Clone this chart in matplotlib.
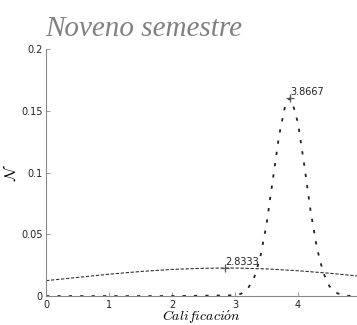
import numpy as np
import matplotlib.pyplot as plt

plt.rcParams['mathtext.fontset'] = 'cm'

# Curva ancha (media 2.8333)
x_ancha = [0.0, 0.5, 1.0, 1.5, 2.0, 2.5, 2.8333, 3.0, 3.5, 4.0, 4.5, 4.94]
y_ancha = [0.0125, 0.0151, 0.0177, 0.0199, 0.0216, 0.0225, 0.0227, 0.0227,
           0.0220, 0.0205, 0.0185, 0.0163]

# Curva estrecha (media 3.8667)
x_estrecha = [0.0, 1.0, 2.0, 3.0, 3.1, 3.2, 3.3, 3.4, 3.5, 3.6, 3.7, 3.8, 3.8667,
              3.9, 4.0, 4.1, 4.2, 4.3, 4.4, 4.5, 4.6, 4.7, 4.8, 4.94]
y_estrecha = [0.0, 0.0, 0.0, 0.0006, 0.0020, 0.0057, 0.0143, 0.031, 0.058, 0.094,
              0.130, 0.155, 0.160, 0.159, 0.140, 0.106, 0.069, 0.039, 0.019,
              0.0079, 0.0028, 0.0009, 0.0002, 0.0]

medias = [2.8333, 3.8667]
picos = [0.0227, 0.160]
etiquetas = ['2.8333', '3.8667']

fig = plt.figure(figsize=(3.57, 3.25), dpi=100)
ax = fig.add_axes([0.129, 0.089, 0.871, 0.760])

ax.plot(x_ancha, y_ancha, color='#333333', linewidth=0.8, linestyle=(0, (3, 1.5)))
ax.plot(x_estrecha, y_estrecha, color='#222222', linewidth=1.3, linestyle=(0, (1.8, 4.5)))

for m, p, t in zip(medias, picos, etiquetas):
    ax.plot(m, p, marker='+', color='#555555', markersize=6, markeredgewidth=0.9)
    ax.text(m + 0.01, p + 0.005, t, fontsize=7, color='#222222', va='center', ha='left')

ax.set_xlim(0, 4.937)
ax.set_ylim(0, 0.2)
ax.set_xticks([0, 1, 2, 3, 4])
ax.set_yticks([0, 0.05, 0.1, 0.15, 0.2])
ax.set_yticklabels(['0', '0.05', '0.1', '0.15', '0.2'])
ax.tick_params(direction='in', length=3, width=0.6, labelsize=7, colors='#888888',
               labelcolor='#222222', pad=2.5)
for s in ['top', 'right']:
    ax.spines[s].set_visible(False)
for s in ['left', 'bottom']:
    ax.spines[s].set_color('#888888')
    ax.spines[s].set_linewidth(0.8)

ax.set_xlabel(r'$Calificaci\acute{o}n$', fontsize=10, labelpad=-0.5)
ax.set_ylabel(r'$\mathcal{N}$', fontsize=11, labelpad=2)

fig.text(0.126, 0.888, 'Noveno semestre', fontsize=21, family='Liberation Serif',
         style='italic', color='#808080', ha='left', va='baseline')

fig.savefig('out.png', dpi=100)
